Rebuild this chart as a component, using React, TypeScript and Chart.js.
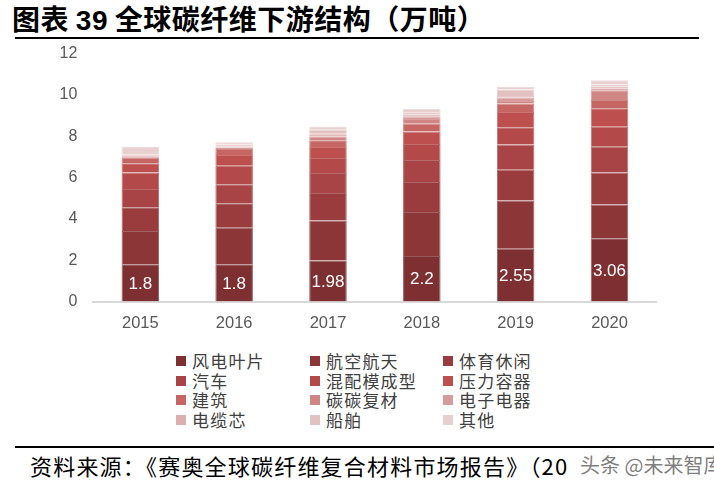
import React, { useEffect, useRef } from 'react';
import { Chart, registerables } from 'chart.js';

Chart.register(...registerables);

const years = ['2015', '2016', '2017', '2018', '2019', '2020'];
const seriesNames = ['风电叶片', '航空航天', '体育休闲', '汽车', '混配模成型', '压力容器', '建筑', '碳碳复材', '电子电器', '电缆芯', '船舶', '其他'];
const windBlade = [1.8, 1.8, 1.98, 2.2, 2.55, 3.06];
const aerospace = [1.61, 1.77, 1.94, 2.13, 2.34, 1.64];
const sports = [1.15, 1.18, 1.33, 1.45, 1.49, 1.55];
const automotive = [0.89, 0.92, 0.97, 1.07, 1.22, 1.24];
const moulding = [0.79, 0.9, 0.73, 0.78, 0.84, 0.97];
const pressureVessel = [0.45, 0.52, 0.53, 0.6, 0.73, 0.89];
const construction = [0.27, 0.29, 0.32, 0.37, 0.41, 0.4];
const carbonCarbon = [0.05, 0.08, 0.19, 0.24, 0.13, 0.48];
const electronics = [0.04, 0.02, 0.08, 0.1, 0.16, 0.08];
const cable = [0.04, 0.02, 0.08, 0.11, 0.08, 0.1];
const marine = [0.02, 0.1, 0.16, 0.11, 0.31, 0.1];
const others = [0.37, 0.11, 0.15, 0.16, 0.13, 0.2];
const yTicks = [0, 2, 4, 6, 8, 10, 12];

const seriesValues = [windBlade, aerospace, sports, automotive, moulding, pressureVessel, construction, carbonCarbon, electronics, cable, marine, others];
const seriesColors = ['#7e2f31', '#8c3638', '#9a3c3d', '#a84445', '#b34949', '#bd504e', '#c56663', '#cf8685', '#d69c9b', '#dcaeae', '#e3c1c1', '#e9d0d0'];

function lighten(hex: string, t: number) {
  const n = parseInt(hex.slice(1), 16);
  const r = (n >> 16) & 255, g = (n >> 8) & 255, b = n & 255;
  const m = (c: number) => Math.round(c + (255 - c) * t);
  return `rgb(${m(r)},${m(g)},${m(b)})`;
}

const labelPlugin = {
  id: 'windLabels',
  afterDatasetsDraw(chart: any) {
    const meta = chart.getDatasetMeta(0);
    const ctx = chart.ctx;
    ctx.save();
    ctx.fillStyle = '#ffffff';
    ctx.font = '17px "Liberation Sans", Arial, sans-serif';
    ctx.textAlign = 'center';
    ctx.textBaseline = 'middle';
    meta.data.forEach((el: any, i: number) => {
      const p = el.getProps(['x', 'y', 'base'], true);
      ctx.fillText(String(windBlade[i]), p.x, (p.y + p.base) / 2 + 1);
    });
    ctx.restore();
  },
};

export default function App() {
  const ref = useRef<HTMLCanvasElement>(null);

  useEffect(() => {
    if (!ref.current) return;
    const chart = new Chart(ref.current, {
      type: 'bar',
      data: {
        labels: years,
        datasets: seriesNames.map((name, i) => ({
          label: name,
          data: seriesValues[i],
          backgroundColor: seriesColors[i],
          borderColor: lighten(seriesColors[i], 0.2),
          borderWidth: 1,
          barPercentage: 0.4,
          categoryPercentage: 1.0,
        })),
      },
      options: {
        animation: false,
        responsive: false,
        devicePixelRatio: 1,
        layout: { padding: { top: 0, right: 57.6, left: 0, bottom: 0 } },
        plugins: { legend: { display: false }, tooltip: { enabled: false } },
        scales: {
          x: {
            stacked: true,
            grid: { display: false, drawTicks: false },
            border: { display: true, color: '#d9d9d9', width: 2 },
            ticks: { color: '#595959', font: { family: '"Liberation Sans", Arial, sans-serif', size: 16.5 }, padding: 12 },
            afterFit: (s: any) => { s.height = 38.5; },
          },
          y: {
            stacked: true,
            min: 0,
            max: 12,
            grid: { display: false, drawTicks: false },
            border: { display: false },
            ticks: { color: '#595959', font: { family: '"Liberation Sans", Arial, sans-serif', size: 16 }, padding: 16 },
            afterBuildTicks: (axis: any) => { axis.ticks = yTicks.map((v) => ({ value: v })); },
            afterFit: (s: any) => { s.width = 93.4; },
          },
        },
      },
      plugins: [labelPlugin],
    });
    return () => chart.destroy();
  }, []);

  const colX = [176, 310, 443];
  const rowY = [361, 380.5, 400, 419.5];

  return (
    <div style={{ position: 'fixed', left: 0, top: 0, width: 714, height: 484, background: '#fff', overflow: 'hidden', fontFamily: '"Noto Sans CJK SC", sans-serif' }}>
      <div style={{ position: 'absolute', left: 12, top: 0, fontSize: 28, letterSpacing: 0.5, fontWeight: 700, color: '#000', whiteSpace: 'nowrap', lineHeight: '37px' }}>
        图表 <span style={{ fontFamily: '"Liberation Sans", Arial, sans-serif' }}>39</span> 全球碳纤维下游结构（万吨）
      </div>
      <div style={{ position: 'absolute', left: 15, top: 37, width: 684, height: 2, background: '#000' }} />
      <canvas ref={ref} width={714} height={312} style={{ position: 'absolute', left: 0, top: 28, display: 'block' }} />
      {seriesNames.map((name, i) => {
        const col = i % 3;
        const row = Math.floor(i / 3);
        return (
          <div key={name} style={{ position: 'absolute', left: colX[col], top: rowY[row] - 11, height: 22, display: 'flex', alignItems: 'center', whiteSpace: 'nowrap' }}>
            <div style={{ width: 10, height: 10, background: seriesColors[i], marginRight: 6 }} />
            <span style={{ fontSize: 17, letterSpacing: 1.2, color: '#404040', lineHeight: '22px' }}>{name}</span>
          </div>
        );
      })}
      <div style={{ position: 'absolute', left: 15, top: 446, width: 699, height: 2, background: '#000' }} />
      <div style={{ position: 'absolute', left: 30, top: 449, fontSize: 22, letterSpacing: 1.2, color: '#000', whiteSpace: 'nowrap', lineHeight: '32px' }}>
        资料来源：《赛奥全球碳纤维复合材料市场报告》（20
      </div>
      <div style={{ position: 'absolute', left: 580, top: 450, fontSize: 20, color: 'rgba(70,70,70,0.7)', whiteSpace: 'nowrap', lineHeight: '30px' }}>
        头条 @未来智库
      </div>
    </div>
  );
}
